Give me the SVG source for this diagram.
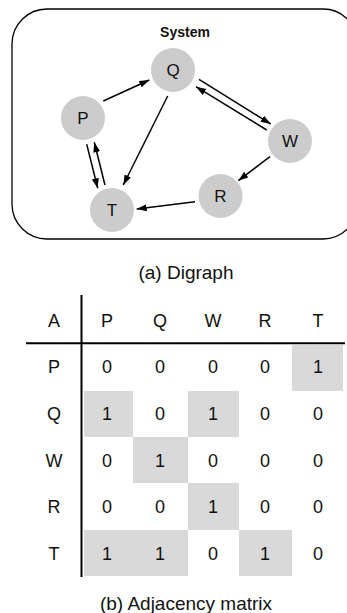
<svg xmlns="http://www.w3.org/2000/svg" width="347" height="613" viewBox="0 0 347 613">
<style>
text{font-family:"Liberation Sans",Arial,sans-serif;fill:#111}
.node circle{fill:#cccccc}
.node text{font-size:17px;text-anchor:middle}
.edge{stroke:#000;stroke-width:1.5;fill:none;marker-end:url(#ah)}
.cell{fill:#d9d9d9}
.m{font-size:18px;text-anchor:middle}
.cap{font-size:19px;text-anchor:middle}
</style>
<defs>
<marker id="ah" markerUnits="userSpaceOnUse" markerWidth="11" markerHeight="8" refX="10" refY="3.5" orient="auto">
<path d="M0,0 L10,3.5 L0,7 z" fill="#000"/>
</marker>
</defs>
<g id="system">
<rect x="12" y="9" width="346" height="230" rx="35" ry="35" fill="#fff" stroke="#000" stroke-width="1.3"/>
<text x="185" y="37" style="font-size:14px;font-weight:bold" text-anchor="middle">System</text>
</g>
<g id="connectors">
<line class="edge" x1="103.3" y1="101" x2="149.3" y2="80"/>
<line class="edge" x1="167.7" y1="96" x2="123.3" y2="185"/>
<line class="edge" x1="86.7" y1="144.3" x2="97.7" y2="188.3"/>
<line class="edge" x1="105" y1="185" x2="94.3" y2="142.3"/>
<line class="edge" x1="195" y1="201.7" x2="136.7" y2="209"/>
<line class="edge" x1="199" y1="79.3" x2="270.7" y2="124"/>
<line class="edge" x1="266.7" y1="130" x2="196" y2="86.7"/>
<line class="edge" x1="270" y1="156.7" x2="238.3" y2="180.7"/>
</g>
<g id="P" class="node"><circle cx="83" cy="118" r="22"/><text x="83" y="124">P</text></g>
<g id="Q" class="node"><circle cx="173" cy="70" r="22"/><text x="173" y="76">Q</text></g>
<g id="W" class="node"><circle cx="290" cy="141" r="22"/><text x="290" y="147">W</text></g>
<g id="R" class="node"><circle cx="220.5" cy="196" r="22"/><text x="220.5" y="202">R</text></g>
<g id="T" class="node"><circle cx="112" cy="210" r="22"/><text x="112" y="216">T</text></g>
<text class="cap" x="186" y="279">(a) Digraph</text>
<g id="matrix">
<rect class="cell" x="292" y="345" width="51" height="46"/>
<rect class="cell" x="84" y="391" width="49" height="46"/>
<rect class="cell" x="188" y="391" width="51" height="46"/>
<rect class="cell" x="133" y="437" width="55" height="46"/>
<rect class="cell" x="188" y="483" width="51" height="47"/>
<rect class="cell" x="84" y="530" width="104" height="46"/>
<rect class="cell" x="239" y="530" width="53" height="46"/>
<line x1="81.5" y1="295" x2="81.5" y2="577" stroke="#000" stroke-width="2"/>
<line x1="26" y1="343.3" x2="345" y2="343.3" stroke="#000" stroke-width="2"/>
<g class="m">
<text class="m" x="54" y="327">A</text><text class="m" x="107" y="327">P</text><text class="m" x="160" y="327">Q</text><text class="m" x="213" y="327">W</text><text class="m" x="265" y="327">R</text><text class="m" x="318" y="327">T</text>
<text class="m" x="54" y="373">P</text><text class="m" x="107" y="373">0</text><text class="m" x="160" y="373">0</text><text class="m" x="213" y="373">0</text><text class="m" x="265" y="373">0</text><text class="m" x="318" y="373">1</text>
<text class="m" x="54" y="420">Q</text><text class="m" x="107" y="420">1</text><text class="m" x="160" y="420">0</text><text class="m" x="213" y="420">1</text><text class="m" x="265" y="420">0</text><text class="m" x="318" y="420">0</text>
<text class="m" x="54" y="467">W</text><text class="m" x="107" y="467">0</text><text class="m" x="160" y="467">1</text><text class="m" x="213" y="467">0</text><text class="m" x="265" y="467">0</text><text class="m" x="318" y="467">0</text>
<text class="m" x="54" y="513">R</text><text class="m" x="107" y="513">0</text><text class="m" x="160" y="513">0</text><text class="m" x="213" y="513">1</text><text class="m" x="265" y="513">0</text><text class="m" x="318" y="513">0</text>
<text class="m" x="54" y="559.5">T</text><text class="m" x="107" y="559.5">1</text><text class="m" x="160" y="559.5">1</text><text class="m" x="213" y="559.5">0</text><text class="m" x="265" y="559.5">1</text><text class="m" x="318" y="559.5">0</text>
</g>
</g>
<text class="cap" x="186" y="610">(b) Adjacency matrix</text>
</svg>
